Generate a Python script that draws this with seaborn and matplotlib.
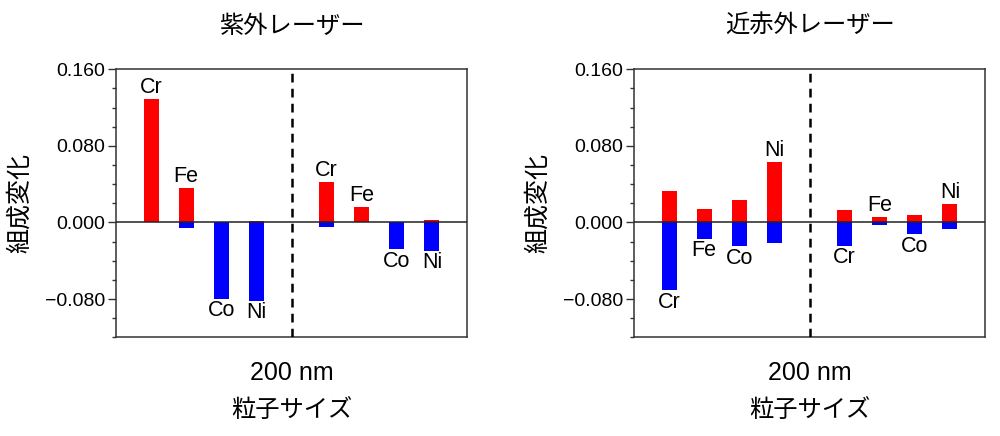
import matplotlib
matplotlib.use("Agg")
import matplotlib.pyplot as plt
import seaborn as sns
from matplotlib.ticker import MultipleLocator, FuncFormatter

sns.set_style("white")
plt.rcParams['font.family'] = ['Liberation Sans', 'Noto Sans CJK JP', 'DejaVu Sans']
plt.rcParams['text.color'] = 'black'
plt.rcParams['axes.labelcolor'] = 'black'
plt.rcParams['xtick.color'] = 'black'
plt.rcParams['ytick.color'] = 'black'

# data
elements = ["Cr", "Fe", "Co", "Ni", "Cr", "Fe", "Co", "Ni"]
xpos = [1, 2, 3, 4, 6, 7, 8, 9]

uv_pos = [0.129, 0.036, 0.0, 0.002, 0.042, 0.0157, 0.0, 0.0028]
uv_neg = [0.0, -0.006, -0.080, -0.082, -0.0046, 0.0, -0.028, -0.0297]

nir_pos = [0.0324, 0.0143, 0.0237, 0.0628, 0.0126, 0.0052, 0.0073, 0.0192]
nir_neg = [-0.0711, -0.0171, -0.0251, -0.0216, -0.0244, -0.0031, -0.0122, -0.0070]

titles = ["紫外レーザー", "近赤外レーザー"]
size_label = "200 nm"

fig = plt.figure(figsize=(10, 4.36), dpi=100)
ax1 = fig.add_axes([0.116, 0.2264, 0.351, 0.6146])
ax2 = fig.add_axes([0.634, 0.2264, 0.351, 0.6146])

fmt = FuncFormatter(lambda v, p: f"{v:.3f}".replace("-", "\u2212"))

for ax, title, pos, neg in [(ax1, titles[0], uv_pos, uv_neg),
                             (ax2, titles[1], nir_pos, nir_neg)]:
    sns.barplot(x=xpos, y=pos, native_scale=True, width=0.43, color="#ff0000",
                saturation=1, ax=ax, linewidth=0)
    sns.barplot(x=xpos, y=neg, native_scale=True, width=0.43, color="#0000ff",
                saturation=1, ax=ax, linewidth=0)

    ax.axhline(0, color="#222222", lw=1.1, zorder=3)
    ax.axvline(5, color="black", lw=1.8, ls=(0, (3.5, 2.5)), zorder=3)

    # element labels on the larger side
    for x, name, p, n in zip(xpos, elements, pos, neg):
        if p >= -n:
            ax.annotate(name, (x, p), xytext=(0, 1), textcoords="offset points",
                        ha="center", va="bottom", fontsize=15.5)
        else:
            ax.annotate(name, (x, n), xytext=(0, -1), textcoords="offset points",
                        ha="center", va="top", fontsize=15.5)

    ax.set_xlim(0, 10)
    ax.set_ylim(-0.12, 0.16)
    ax.yaxis.set_major_locator(MultipleLocator(0.08))
    ax.yaxis.set_minor_locator(MultipleLocator(0.02))
    ax.yaxis.set_major_formatter(fmt)
    ax.tick_params(axis="y", which="major", direction="out", length=6, width=1,
                   color="#333333", labelsize=14, pad=2, left=True)
    ax.tick_params(axis="y", which="minor", direction="out", length=3, width=1,
                   color="#333333", left=True)
    ax.set_xticks([5])
    ax.set_xticklabels([size_label])
    ax.tick_params(axis="x", length=0, labelsize=18, pad=17)

    for s in ax.spines.values():
        s.set_color("#333333")
        s.set_linewidth(1.1)

    ax.set_title(title, fontsize=17.5, pad=26)
    ax.set_xlabel("粒子サイズ", fontsize=17.5, labelpad=11)
    ax.set_ylabel("組成変化", fontsize=18, labelpad=9)

fig.savefig("out.png", dpi=100, facecolor="white")
